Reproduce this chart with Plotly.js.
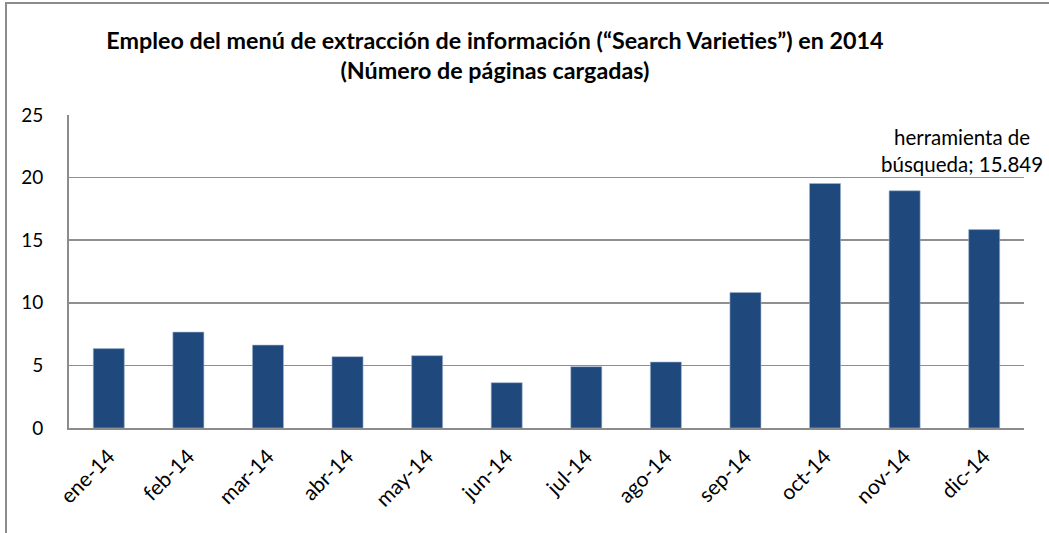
<!DOCTYPE html>
<html>
<head>
<meta charset="utf-8">
<script src="https://cdn.plot.ly/plotly-3.0.1.min.js"></script>
<style>
  html, body { margin: 0; padding: 0; background: #fff; }
  #wrap { position: relative; width: 1049px; height: 533px; overflow: hidden; }
  #frame { position: absolute; left: 5px; top: 2px; width: 1100px; height: 600px; border-left: 2px solid #8c8c8c; border-top: 2px solid #8c8c8c; pointer-events: none; }
  #chart { position: absolute; left: 0; top: 0; width: 1049px; height: 533px; }
</style>
</head>
<body>
<div id="wrap">
  <div id="chart"></div>
  <div id="frame"></div>
</div>
<script>
const categories = ["ene-14","feb-14","mar-14","abr-14","may-14","jun-14","jul-14","ago-14","sep-14","oct-14","nov-14","dic-14"];
const values = [6.34, 7.66, 6.62, 5.70, 5.78, 3.62, 4.90, 5.27, 10.83, 19.53, 18.95, 15.849];
const seriesName = "herramienta de búsqueda";
const yTicks = [0, 5, 10, 15, 20, 25];
const titleText = "Empleo del menú de extracción de información (“Search Varieties”) en 2014<br>(Número de páginas cargadas)";
const labelCategory = "dic-14";
const labelValue = 15.849;

const font = "Lato, 'Open Sans', sans-serif";

const trace = {
  type: "bar",
  x: categories,
  y: values,
  name: seriesName,
  width: 0.39,
  marker: { color: "#1F497D", line: { color: "#9fb3cc", width: 0.6 } },
  hoverinfo: "x+y"
};

const layout = {
  width: 1049,
  height: 533,
  margin: { l: 69, r: 25, t: 115, b: 105 },
  paper_bgcolor: "#ffffff",
  plot_bgcolor: "#ffffff",
  showlegend: false,
  title: {
    text: titleText,
    x: 0.446, xref: "paper", xanchor: "center",
    y: 0.908, yref: "container", yanchor: "middle",
    font: { family: font, size: 23.3, color: "#000", weight: "bold" }
  },
  font: { family: font, color: "#000" },
  xaxis: {
    type: "category",
    range: [-0.5, categories.length - 0.5],
    autorange: false,
    tickangle: -45,
    tickfont: { family: font, size: 21, color: "#000" },
    showline: true, linecolor: "#8c8c8c", linewidth: 2,
    ticks: "outside", ticklen: 6, tickcolor: "rgba(0,0,0,0)",
    showgrid: false, zeroline: false
  },
  yaxis: {
    range: [0, 25],
    autorange: false,
    tickvals: yTicks,
    tickfont: { family: font, size: 19, color: "#000" },
    showline: true, linecolor: "#8c8c8c", linewidth: 2,
    showgrid: true, gridcolor: "#8f8f8f", gridwidth: 1.6,
    ticks: "outside", ticklen: 20, tickcolor: "rgba(0,0,0,0)",
    zeroline: false
  },
  annotations: [{
    x: labelCategory, y: labelValue,
    xref: "x", yref: "y",
    text: "herramienta de<br>búsqueda; " + labelValue.toFixed(3),
    showarrow: false,
    xanchor: "center", yanchor: "bottom",
    xshift: -22, yshift: 52,
    align: "center",
    font: { family: font, size: 20.5, color: "#000" }
  }]
};

Plotly.newPlot("chart", [trace], layout, { displayModeBar: false, staticPlot: true });
</script>
</body>
</html>
